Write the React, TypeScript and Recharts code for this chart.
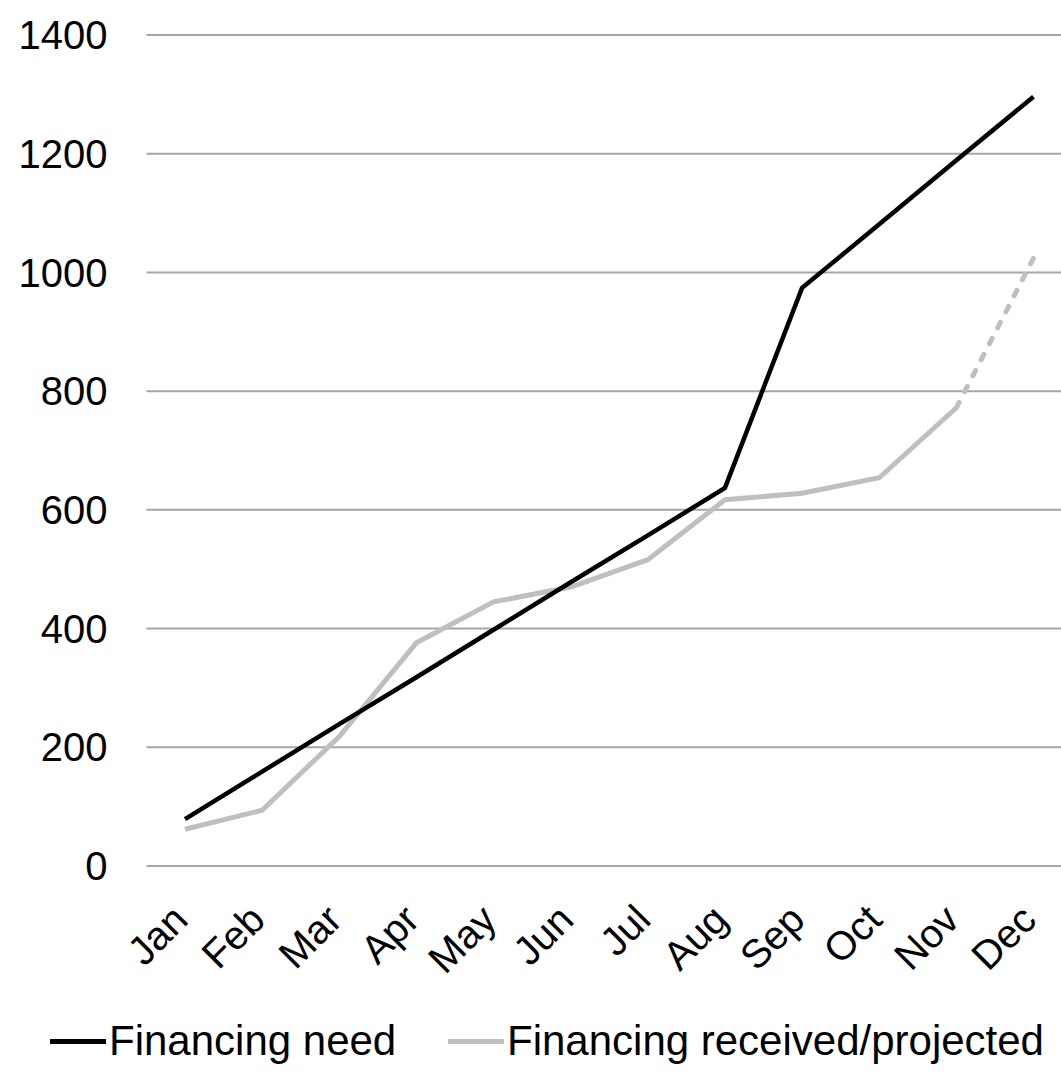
import React from 'react';
import { LineChart, Line, XAxis, YAxis, CartesianGrid } from 'recharts';

const months = ['Jan', 'Feb', 'Mar', 'Apr', 'May', 'Jun', 'Jul', 'Aug', 'Sep', 'Oct', 'Nov', 'Dec'];
const financingNeed = [79, 159, 239, 318, 398, 478, 557, 637, 974, 1081, 1189, 1296];
const financingReceived = [62, 94, 218, 376, 445, 470, 516, 617, 628, 654, 772, null];
const financingProjected = [null, null, null, null, null, null, null, null, null, null, 772, 1024];
const yTicks = [0, 200, 400, 600, 800, 1000, 1200, 1400];
const seriesNames = ['Financing need', 'Financing received/projected'];
const seriesColors = ['#000000', '#bfbfbf'];

const data = months.map((m, i) => ({
  month: m,
  need: financingNeed[i],
  received: financingReceived[i],
  projected: financingProjected[i],
}));

const FONT = '"Liberation Sans", Arial, sans-serif';

const MonthTick = (props: any) => {
  const { x, payload } = props;
  const ax = x + 5;
  const ay = 922;
  return (
    <text
      x={ax}
      y={ay}
      textAnchor="end"
      transform={`rotate(-45, ${ax}, ${ay})`}
      fontFamily={FONT}
      fontSize={40}
      fill="#000"
    >
      {payload.value}
    </text>
  );
};

export default function App() {
  return (
    <div style={{ position: 'absolute', left: 0, top: 0, width: 1061, height: 1078, overflow: 'hidden', background: '#fff' }}>
      <LineChart
        width={1072}
        height={1078}
        data={data}
        margin={{ top: 35, right: 0, left: 0, bottom: 0 }}
      >
        <CartesianGrid vertical={false} stroke="#a6a6a6" strokeWidth={2} />
        <XAxis
          dataKey="month"
          axisLine={false}
          tickLine={false}
          height={212}
          interval={0}
          padding={{ left: 38.5, right: 38.5 }}
          tick={<MonthTick />}
        />
        <YAxis
          domain={[0, 1400]}
          ticks={yTicks}
          axisLine={false}
          tickLine={false}
          tickSize={0}
          tickMargin={39}
          width={146.5}
          tick={{ fontFamily: FONT, fontSize: 40, fill: '#000' }}
        />
        <Line
          dataKey="projected"
          stroke={seriesColors[1]}
          strokeWidth={5}
          strokeDasharray="6 12"
          strokeLinecap="round"
          dot={false}
          isAnimationActive={false}
          legendType="none"
        />
        <Line
          dataKey="received"
          stroke={seriesColors[1]}
          strokeWidth={5}
          dot={false}
          isAnimationActive={false}
        />
        <Line
          dataKey="need"
          stroke={seriesColors[0]}
          strokeWidth={4.5}
          dot={false}
          isAnimationActive={false}
        />
      </LineChart>
      <div style={{ position: 'absolute', top: 1016, left: 0, width: 1061, height: 50, fontFamily: FONT, fontSize: 42, color: '#000' }}>
        {seriesNames.map((name, i) => (
          <div key={name} style={{ position: 'absolute', left: i === 0 ? 50 : 448, top: 0, display: 'flex', alignItems: 'center', height: 50, whiteSpace: 'nowrap' }}>
            <div style={{ width: 56, height: 5, background: seriesColors[i], marginRight: 3 }} />
            <span>{name}</span>
          </div>
        ))}
      </div>
    </div>
  );
}
